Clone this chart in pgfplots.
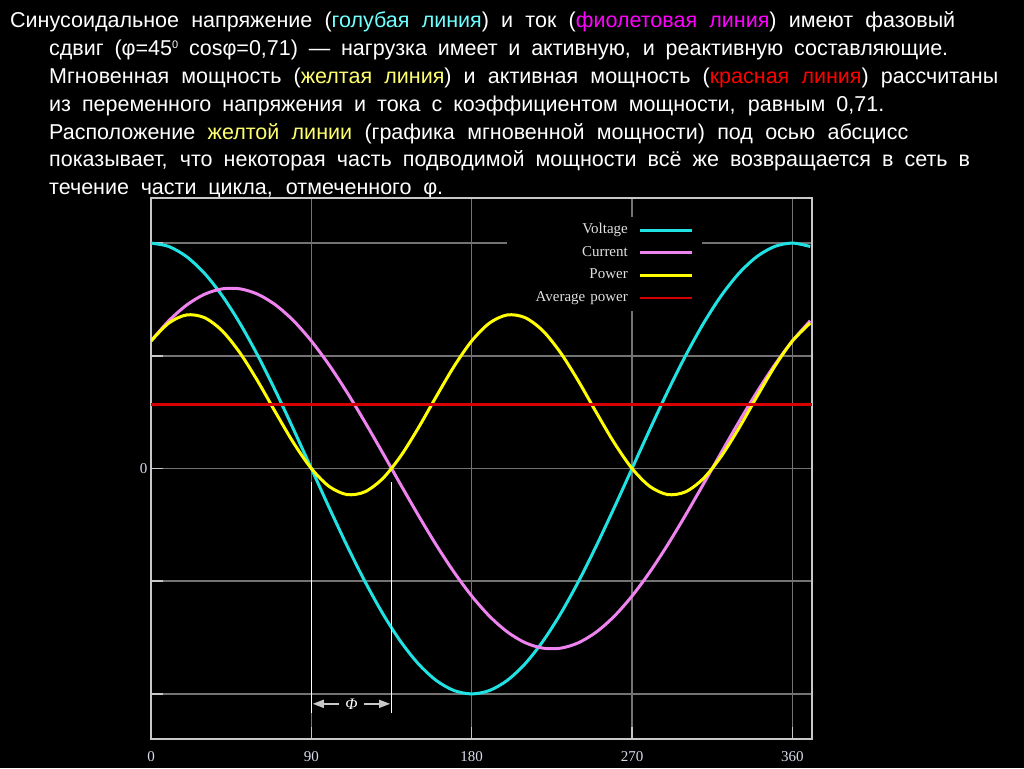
\documentclass[border=0pt]{standalone}
\usepackage{fontspec}
\setmainfont{Liberation Sans}
\newfontfamily\serif{Liberation Serif}
\usepackage{pgfplots}
\pgfplotsset{compat=1.18}
\usetikzlibrary{arrows.meta}
\definecolor{volt}{RGB}{32,226,226}
\definecolor{curr}{RGB}{238,130,238}
\definecolor{powc}{RGB}{255,255,0}
\definecolor{avgc}{RGB}{215,0,0}
\definecolor{gridc}{RGB}{115,115,115}
\definecolor{framec}{RGB}{200,200,200}
\definecolor{labc}{RGB}{215,220,235}
\definecolor{legc}{RGB}{225,225,225}
\definecolor{tcyan}{RGB}{110,255,255}
\definecolor{tmag}{RGB}{255,0,255}
\definecolor{tyel}{RGB}{255,255,110}
\definecolor{tred}{RGB}{255,0,0}
\begin{document}
\begin{tikzpicture}[x=1pt,y=1pt]
\fill[black] (0,0) rectangle (1024,768);
\begin{scope}[every node/.style={anchor=base west, inner sep=0pt, text=white, font=\fontsize{21.5}{24}\selectfont}]
\node at (10,740) {\makebox[945pt][s]{Синусоидальное напряжение (\textcolor{tcyan}{голубая линия}) и ток (\textcolor{tmag}{фиолетовая линия}) имеют фазовый}};
\node at (49,712) {\makebox[899pt][s]{сдвиг (φ=45\raisebox{7pt}{\fontsize{11}{11}\selectfont 0} cosφ=0,71) — нагрузка имеет и активную, и реактивную составляющие.}};
\node at (49,684) {\makebox[949pt][s]{Мгновенная мощность (\textcolor{tyel}{желтая линия}) и активная мощность (\textcolor{tred}{красная линия}) рассчитаны}};
\node at (49,656) {\makebox[835pt][s]{из переменного напряжения и тока с коэффициентом мощности, равным 0,71.}};
\node at (49,628) {\makebox[859pt][s]{Расположение \textcolor{tyel}{желтой линии} (графика мгновенной мощности) под осью абсцисс}};
\node at (49,601) {\makebox[921pt][s]{показывает, что некоторая часть подводимой мощности всё же возвращается в сеть в}};
\node at (49,573) {\makebox[394pt][s]{течение части цикла, отмеченного φ.}};
\end{scope}
\begin{axis}[
  at={(151pt,29pt)}, anchor=south west,
  width=661pt, height=541pt, scale only axis,
  xmin=0, xmax=371, ymin=-1.2, ymax=1.2,
  axis line style={draw=framec, line width=1.5pt},
  xtick={0,90,180,270,360},
  ytick={-1,-0.5,0,0.5,1}, yticklabels={,,0,,},
  xtick pos=lower, ytick pos=left,
  tick align=inside, major tick length=12pt,
  tick style={draw=framec, line width=1.5pt},
  grid=major, major grid style={draw=gridc, line width=1.5pt},
  /pgf/number format/assume math mode=true,
  xticklabel style={font=\serif\fontsize{15}{17}\selectfont, text=labc, yshift=-9pt},
  yticklabel style={font=\serif\fontsize{15}{17}\selectfont, text=labc},
  legend plot pos=right,
  legend image code/.code={\draw[#1] (0pt,0pt) -- (52pt,0pt);},
  legend style={at={(0.8336,0.9649)}, anchor=north east, fill=black, draw=none,
    font=\serif\fontsize{15}{17}\selectfont, text=legc,
    inner xsep=8pt, inner ysep=5.5pt, row sep=7.6pt, column sep=11pt,
    nodes={inner sep=0pt, text width=113pt, align=right, text height=11pt, text depth=4pt}},
]
\addplot[volt, line width=3pt, smooth] table[x=x, y=v] {
x v
0 1
10 0.9848
20 0.9397
30 0.8660
40 0.7660
50 0.6428
60 0.5
70 0.3420
80 0.1736
90 0
100 -0.1736
110 -0.3420
120 -0.5
130 -0.6428
140 -0.7660
150 -0.8660
160 -0.9397
170 -0.9848
180 -1
190 -0.9848
200 -0.9397
210 -0.8660
220 -0.7660
230 -0.6428
240 -0.5
250 -0.3420
260 -0.1736
270 0
280 0.1736
290 0.3420
300 0.5
310 0.6428
320 0.7660
330 0.8660
340 0.9397
350 0.9848
360 1
370 0.9848
};
\addlegendentry{Voltage}
\addplot[curr, line width=3pt, smooth] table[x=x, y=i] {
x i
0 0.5657
10 0.6554
20 0.7250
30 0.7727
40 0.7970
50 0.7970
60 0.7727
70 0.7250
80 0.6554
90 0.5657
100 0.4589
110 0.3381
120 0.2070
130 0.0698
140 -0.0698
150 -0.2070
160 -0.3381
170 -0.4589
180 -0.5657
190 -0.6554
200 -0.7250
210 -0.7727
220 -0.7970
230 -0.7970
240 -0.7727
250 -0.7250
260 -0.6554
270 -0.5657
280 -0.4589
290 -0.3381
300 -0.2070
310 -0.0698
320 0.0698
330 0.2070
340 0.3381
350 0.4589
360 0.5657
370 0.6554
};
\addlegendentry{Current}
\addplot[powc, line width=3pt, smooth] table[x=x, y=p] {
x p
0 0.5657
10 0.6453
20 0.6813
30 0.6692
40 0.6105
50 0.5122
60 0.3863
70 0.2479
80 0.1138
90 0
100 -0.0797
110 -0.1157
120 -0.1036
130 -0.0449
140 0.0534
150 0.1793
160 0.3177
170 0.4518
180 0.5657
190 0.6453
200 0.6813
210 0.6692
220 0.6105
230 0.5122
240 0.3863
250 0.2479
260 0.1138
270 0
280 -0.0797
290 -0.1157
300 -0.1036
310 -0.0449
320 0.0534
330 0.1793
340 0.3177
350 0.4518
360 0.5657
370 0.6453
};
\addlegendentry{Power}
\addplot[avgc, line width=2.5pt] table[x=x, y=a] {
x a
0 0.2828
371 0.2828
};
\addlegendentry{Average power}
\draw[white, line width=1.5pt] (axis cs:90,-0.062) -- (axis cs:90,-1.084);
\draw[white, line width=1.5pt] (axis cs:135,-0.062) -- (axis cs:135,-1.084);
\draw[framec, line width=1.5pt, -{Triangle[length=11pt,width=8pt]}] (axis cs:105.5,-1.044) -- (axis cs:90.8,-1.044);
\draw[framec, line width=1.5pt, -{Triangle[length=11pt,width=8pt]}] (axis cs:119.5,-1.044) -- (axis cs:134.2,-1.044);
\node[text=white, font=\serif\itshape\fontsize{16}{17}\selectfont, inner sep=0pt] at (axis cs:112.5,-1.044) {Φ};
\end{axis}
\pgfresetboundingbox
\path[use as bounding box] (0,0) rectangle (1024,768);
\end{tikzpicture}
\end{document}
